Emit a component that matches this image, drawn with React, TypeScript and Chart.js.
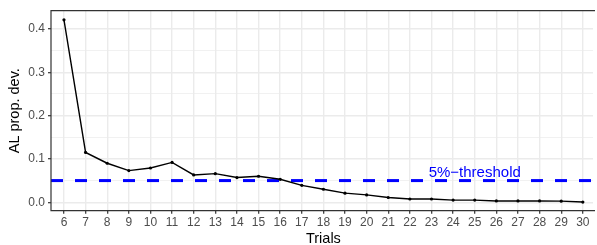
import React, { useEffect, useRef } from "react";
import { Chart, registerables } from "chart.js";

Chart.register(...registerables);

const TRIALS = [6, 7, 8, 9, 10, 11, 12, 13, 14, 15, 16, 17, 18, 19, 20, 21, 22, 23, 24, 25, 26, 27, 28, 29, 30];
const AL_PROP_DEV = [
  0.421, 0.115, 0.09, 0.073, 0.079, 0.092, 0.063, 0.066, 0.057, 0.06, 0.053, 0.039, 0.03,
  0.021, 0.017, 0.011, 0.0075, 0.0075, 0.005, 0.005, 0.003, 0.003, 0.003, 0.0025, 0.0005,
];
const Y_GRID = [0, 0.05, 0.1, 0.15, 0.2, 0.25, 0.3, 0.35, 0.4];
const Y_MAJOR = [0, 0.1, 0.2, 0.3, 0.4];
// the panel of the original runs past the right edge of the picture
const X_MIN = 5.4;
const X_MAX = 30.47;
const X_PANEL_CENTRE = 18;
const Y_MIN = -0.0195;
const Y_MAX = 0.442;
const THRESHOLD = 0.05;
const THRESHOLD_LABEL = "5%\u2212threshold";
const LABEL_X = 25;
const LABEL_Y = 0.07;
const X_TITLE = "Trials";
const Y_TITLE = "AL prop. dev.";

const FONT = "'Liberation Sans', Arial, sans-serif";

const isMajor = (v: number) => Y_MAJOR.some((m) => Math.abs(m - v) < 1e-9);

const panelPlugin = {
  id: "panelDecor",
  afterDatasetsDraw(chart: any) {
    const { ctx, scales } = chart;
    ctx.save();
    ctx.fillStyle = "#0000FF";
    ctx.font = `15px ${FONT}`;
    ctx.textAlign = "center";
    ctx.textBaseline = "middle";
    ctx.fillText(THRESHOLD_LABEL, scales.x.getPixelForValue(LABEL_X), scales.y.getPixelForValue(LABEL_Y) + 1);
    ctx.restore();
  },
  afterDraw(chart: any) {
    const { ctx, chartArea, scales } = chart;
    ctx.save();
    ctx.strokeStyle = "#333333";
    ctx.lineWidth = 1.2;
    ctx.beginPath();
    ctx.moveTo(chartArea.right + 2, chartArea.top);
    ctx.lineTo(chartArea.left, chartArea.top);
    ctx.lineTo(chartArea.left, chartArea.bottom);
    ctx.lineTo(chartArea.right + 2, chartArea.bottom);
    ctx.stroke();
    // x title, centred on the full (uncropped) panel of the original
    ctx.fillStyle = "#000000";
    ctx.font = `14.5px ${FONT}`;
    ctx.textAlign = "center";
    ctx.textBaseline = "middle";
    ctx.fillText(X_TITLE, scales.x.getPixelForValue(X_PANEL_CENTRE), chartArea.bottom + 28);
    ctx.restore();
  },
};

export default function App() {
  const ref = useRef<HTMLCanvasElement | null>(null);
  useEffect(() => {
    if (!ref.current) return;
    const chart = new Chart(ref.current, {
      type: "line",
      data: {
        datasets: [
          {
            label: "threshold",
            data: [
              { x: X_MIN, y: THRESHOLD },
              { x: X_MAX, y: THRESHOLD },
            ],
            borderColor: "#0000FF",
            borderWidth: 3,
            borderDash: [12, 12],
            pointRadius: 0,
            order: 2,
          },
          {
            label: Y_TITLE,
            data: TRIALS.map((t, i) => ({ x: t, y: AL_PROP_DEV[i] })),
            borderColor: "#000000",
            borderWidth: 1.4,
            pointRadius: 1.6,
            pointBorderWidth: 0,
            pointBackgroundColor: "#000000",
            tension: 0,
            order: 1,
          },
        ],
      },
      options: {
        responsive: false,
        animation: false,
        devicePixelRatio: 1,
        layout: { padding: { top: 10.7, right: 0, left: 0, bottom: 0 } },
        plugins: { legend: { display: false }, tooltip: { enabled: false } },
        scales: {
          x: {
            type: "linear",
            min: X_MIN,
            max: X_MAX,
            afterBuildTicks: (s: any) => {
              s.ticks = TRIALS.map((v) => ({ value: v }));
            },
            afterFit: (s: any) => {
              s.height = 34.3;
              s.paddingLeft = 0;
              s.paddingRight = 0;
            },
            border: { display: false },
            grid: { color: "#EBEBEB", lineWidth: 1.4, tickColor: "#333333", tickLength: 3, tickWidth: 1.2 },
            ticks: {
              color: "#4D4D4D",
              font: { family: FONT, size: 12 },
              padding: 2,
              maxRotation: 0,
              autoSkip: false,
              callback: (v: any) => String(v),
            },
            title: { display: false },
          },
          y: {
            type: "linear",
            min: Y_MIN,
            max: Y_MAX,
            afterBuildTicks: (s: any) => {
              s.ticks = Y_GRID.map((v) => ({ value: v }));
            },
            afterFit: (s: any) => {
              s.width = 51;
              s.paddingTop = 0;
              s.paddingBottom = 0;
            },
            border: { display: false },
            grid: {
              color: "#EBEBEB",
              lineWidth: (c: any) => (isMajor(c.tick.value) ? 1.4 : 0.7),
              tickColor: (c: any) => (isMajor(c.tick.value) ? "#333333" : "rgba(0,0,0,0)"),
              tickLength: 3,
              tickWidth: 1.2,
            },
            ticks: {
              color: "#4D4D4D",
              font: { family: FONT, size: 12 },
              padding: 3,
              autoSkip: false,
              callback: (v: any) => (isMajor(Number(v)) ? Number(v).toFixed(1) : ""),
            },
            title: {
              display: true,
              text: Y_TITLE,
              color: "#000000",
              font: { family: FONT, size: 14.5, lineHeight: 1 },
              padding: { top: 8, bottom: 0 },
            },
          },
        },
      },
      plugins: [panelPlugin],
    });
    return () => chart.destroy();
  }, []);
  return (
    <div style={{ position: "fixed", left: 0, top: 0, width: 597, height: 245, background: "#ffffff" }}>
      <canvas ref={ref} width={597} height={245} style={{ display: "block" }} />
    </div>
  );
}
